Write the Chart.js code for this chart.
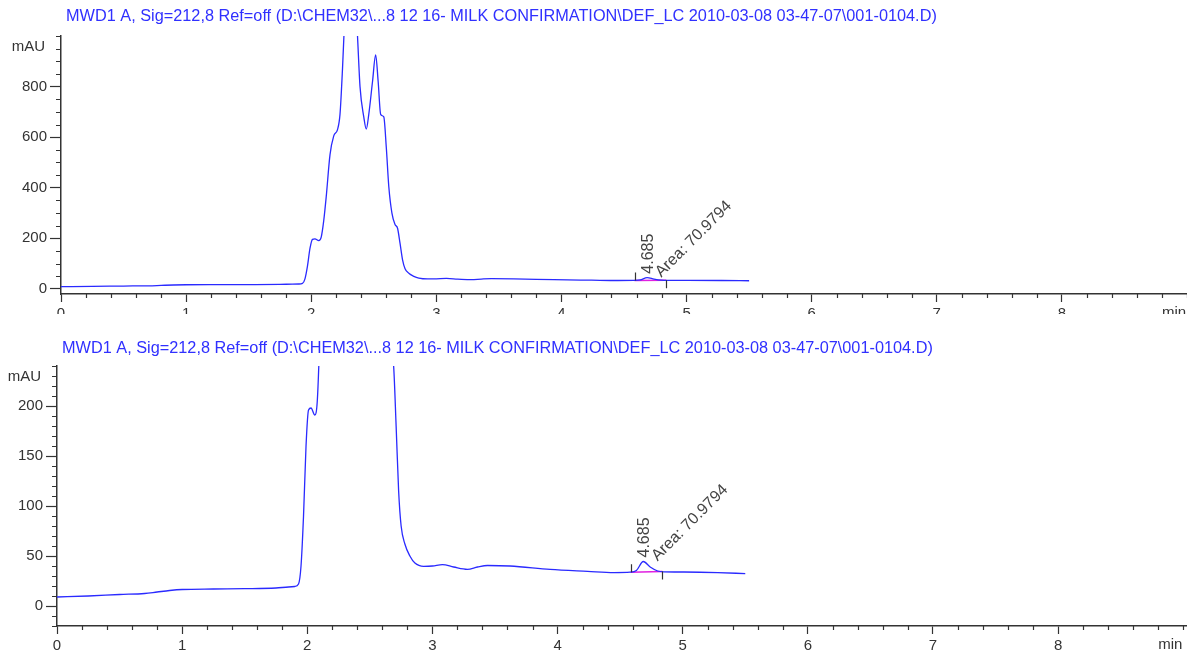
<!DOCTYPE html>
<html>
<head>
<meta charset="utf-8">
<script src="https://cdn.jsdelivr.net/npm/chart.js@4.4.1/dist/chart.umd.min.js"></script>
<style>
  html, body { margin: 0; padding: 0; background: #fff; overflow: hidden; }
  .painel { position: absolute; left: 0; width: 1187px; }
</style>
</head>
<body>
<div class="painel" style="top:0;height:314px"><canvas id="grafico_cima"></canvas></div>
<div class="painel" style="top:320px;height:331px"><canvas id="grafico_baixo"></canvas></div>
<script>
// Cromatograma MWD1 A - mesmo sinal em duas escalas

const tituloSinal = 'MWD1 A, Sig=212,8 Ref=off (D:\\CHEM32\\...8 12 16- MILK CONFIRMATION\\DEF_LC 2010-03-08 03-47-07\\001-0104.D)';
const unidadeY = 'mAU';
const unidadeX = 'min';

// tempo (min) e sinal (mAU)
const tempos = [0.00, 0.25, 0.50, 0.70, 0.80, 0.90, 1.00, 1.25, 1.50, 1.75, 1.85, 1.90,
  1.93, 1.95, 1.97, 1.99, 2.01, 2.03, 2.06, 2.08, 2.10, 2.12, 2.15, 2.18, 2.21, 2.23,
  2.25, 2.27, 2.31, 2.35, 2.37, 2.39, 2.42, 2.44, 2.46, 2.49, 2.515, 2.535, 2.555, 2.58,
  2.60, 2.62, 2.645, 2.67, 2.69, 2.71, 2.73, 2.75, 2.78, 2.82, 2.86, 2.93, 3.00, 3.08,
  3.17, 3.28, 3.36, 3.44, 3.62, 3.94, 4.24, 4.45, 4.58, 4.63, 4.685, 4.74, 4.80, 4.85,
  5.01, 5.28, 5.50];
const sinal = [9, 10, 11.5, 12.5, 14, 15.5, 16.5, 17, 17.3, 18, 19, 19.5,
  22, 40, 90, 160, 196, 198, 191, 205, 270, 365, 530, 605, 630, 690,
  870, 1100, 1500, 1200, 1000, 800, 680, 632, 690, 820, 925, 820, 690, 680,
  560, 405, 300, 255, 240, 180, 115, 80, 62, 50, 43, 39.7, 40, 41.4,
  39, 36.7, 39, 40.5, 40, 36.7, 34.7, 33.4, 33.8, 35.5, 44.5, 39, 35, 34.2,
  34, 33.4, 32.4];

// pico integrado
const picoTempo = 4.685;
const picoAltura = 44.5;
const picoArea = '70.9794';
const integInicio = [4.584, 33.8];
const integFim = [4.838, 34.5];

// eixos
const rotulosX = [0, 1, 2, 3, 4, 5, 6, 7, 8];
const rotulosYCima = [0, 200, 400, 600, 800];
const rotulosYBaixo = [0, 50, 100, 150, 200];

const fonte = '"Liberation Sans", Arial, sans-serif';
Chart.defaults.font.family = fonte;

const pontos = tempos.map((t, i) => ({ x: t, y: sinal[i] }));

const decoracoes = {
  id: 'decoracoes',
  afterDraw(chart, args, o) {
    const { ctx, chartArea: a } = chart;
    const x = chart.scales.x, y = chart.scales.y;
    ctx.save();

    // titulo
    ctx.fillStyle = '#3030ff';
    ctx.font = '16.3px ' + fonte;
    ctx.textBaseline = 'middle';
    ctx.textAlign = 'left';
    ctx.fillText(tituloSinal, o.tituloX, o.tituloY);

    // unidade do eixo y
    ctx.fillStyle = '#333';
    ctx.font = '15px ' + fonte;
    ctx.textAlign = 'right';
    ctx.fillText(unidadeY, a.left - 16, a.top + 11);

    // unidade do eixo x
    ctx.textAlign = 'left';
    ctx.textBaseline = 'top';
    ctx.fillText(unidadeX, x.getPixelForValue(8.8), a.bottom + 11);

    // marcas menores
    ctx.strokeStyle = '#333';
    ctx.lineWidth = 1.2;
    ctx.beginPath();
    const n0 = Math.ceil(y.min / o.yMenor);
    for (let i = n0; i * o.yMenor <= y.max + 1e-6; i++) {
      const v = i * o.yMenor;
      if (o.rotulosY.includes(v)) continue;
      const py = Math.round(y.getPixelForValue(v)) + 0.5;
      ctx.moveTo(a.left - 5, py);
      ctx.lineTo(a.left, py);
    }
    for (let i = 0; i * 0.2 <= x.max + 1e-6; i++) {
      if (i % 5 === 0 && rotulosX.includes(i / 5)) continue;
      const px = Math.round(x.getPixelForValue(i * 0.2)) + 0.5;
      ctx.moveTo(px, a.bottom);
      ctx.lineTo(px, a.bottom + 4);
    }
    // marcas de integracao
    const xi = x.getPixelForValue(integInicio[0]), yi = y.getPixelForValue(integInicio[1]);
    const xf = x.getPixelForValue(integFim[0]), yf = y.getPixelForValue(integFim[1]);
    ctx.moveTo(Math.round(xi) + 0.5, yi);
    ctx.lineTo(Math.round(xi) + 0.5, yi - 8);
    ctx.moveTo(Math.round(xf) + 0.5, yf);
    ctx.lineTo(Math.round(xf) + 0.5, yf + 8);
    ctx.stroke();

    // textos do pico
    const px = x.getPixelForValue(picoTempo), py = y.getPixelForValue(picoAltura);
    ctx.fillStyle = '#444';
    ctx.font = '16px ' + fonte;
    ctx.textBaseline = 'middle';
    ctx.save();
    ctx.translate(px + 1, py - 4);
    ctx.rotate(-Math.PI / 2);
    ctx.fillText(picoTempo.toFixed(3), 0, 0);
    ctx.restore();
    ctx.save();
    ctx.translate(px + 11, py - 3);
    ctx.rotate(-Math.PI / 4);
    ctx.fillText('Area: ' + picoArea, 0, 0);
    ctx.restore();

    ctx.restore();
  }
};

function criarGrafico(id, cfg) {
  return new Chart(document.getElementById(id), {
    type: 'line',
    data: {
      datasets: [{
        data: pontos,
        borderColor: '#2a2aff',
        borderWidth: 1.3,
        pointRadius: 0,
        cubicInterpolationMode: 'monotone',
        fill: false
      }, {
        data: [{ x: integInicio[0], y: integInicio[1] }, { x: integFim[0], y: integFim[1] }],
        borderColor: '#e020e0',
        borderWidth: 1.5,
        pointRadius: 0,
        fill: false
      }]
    },
    options: {
      responsive: true,
      maintainAspectRatio: false,
      animation: false,
      layout: { padding: { top: cfg.topo, right: 0, left: 0, bottom: 0 } },
      plugins: {
        legend: { display: false },
        tooltip: { enabled: false },
        decoracoes: {
          tituloX: cfg.tituloX, tituloY: cfg.tituloY,
          yMenor: cfg.yMenor, rotulosY: cfg.rotulosY
        }
      },
      scales: {
        x: {
          type: 'linear',
          min: 0,
          max: cfg.xMax,
          afterBuildTicks: (s) => { s.ticks = rotulosX.map(v => ({ value: v })); },
          afterFit: (s) => { s.height = cfg.alturaX; },
          border: { display: true, color: '#333', width: 1.5 },
          grid: {
            drawOnChartArea: false,
            drawTicks: true,
            tickLength: 8,
            tickWidth: 1.2,
            tickColor: '#333'
          },
          ticks: {
            autoSkip: false,
            maxRotation: 0,
            padding: 3,
            color: '#333',
            font: { size: 15 },
            callback: (v) => String(v)
          }
        },
        y: {
          min: cfg.yMin,
          max: cfg.yMax,
          afterBuildTicks: (s) => { s.ticks = cfg.rotulosY.map(v => ({ value: v })); },
          afterFit: (s) => { s.width = cfg.larguraY; },
          border: { display: true, color: '#333', width: 1.5 },
          grid: {
            drawOnChartArea: false,
            drawTicks: true,
            tickLength: 11,
            tickWidth: 1.2,
            tickColor: '#333'
          },
          ticks: {
            autoSkip: false,
            padding: 3,
            color: '#333',
            font: { size: 15 },
            callback: (v) => String(v)
          }
        }
      }
    },
    plugins: [decoracoes]
  });
}

criarGrafico('grafico_cima', {
  topo: 36, tituloX: 66, tituloY: 17, larguraY: 61, alturaX: 20,
  xMax: 9.0, yMin: -20, yMax: 1000, yMenor: 50, rotulosY: rotulosYCima
});

criarGrafico('grafico_baixo', {
  topo: 46, tituloX: 62, tituloY: 29, larguraY: 57, alturaX: 25,
  xMax: 9.03, yMin: -20, yMax: 240, yMenor: 10, rotulosY: rotulosYBaixo
});
</script>
</body>
</html>
